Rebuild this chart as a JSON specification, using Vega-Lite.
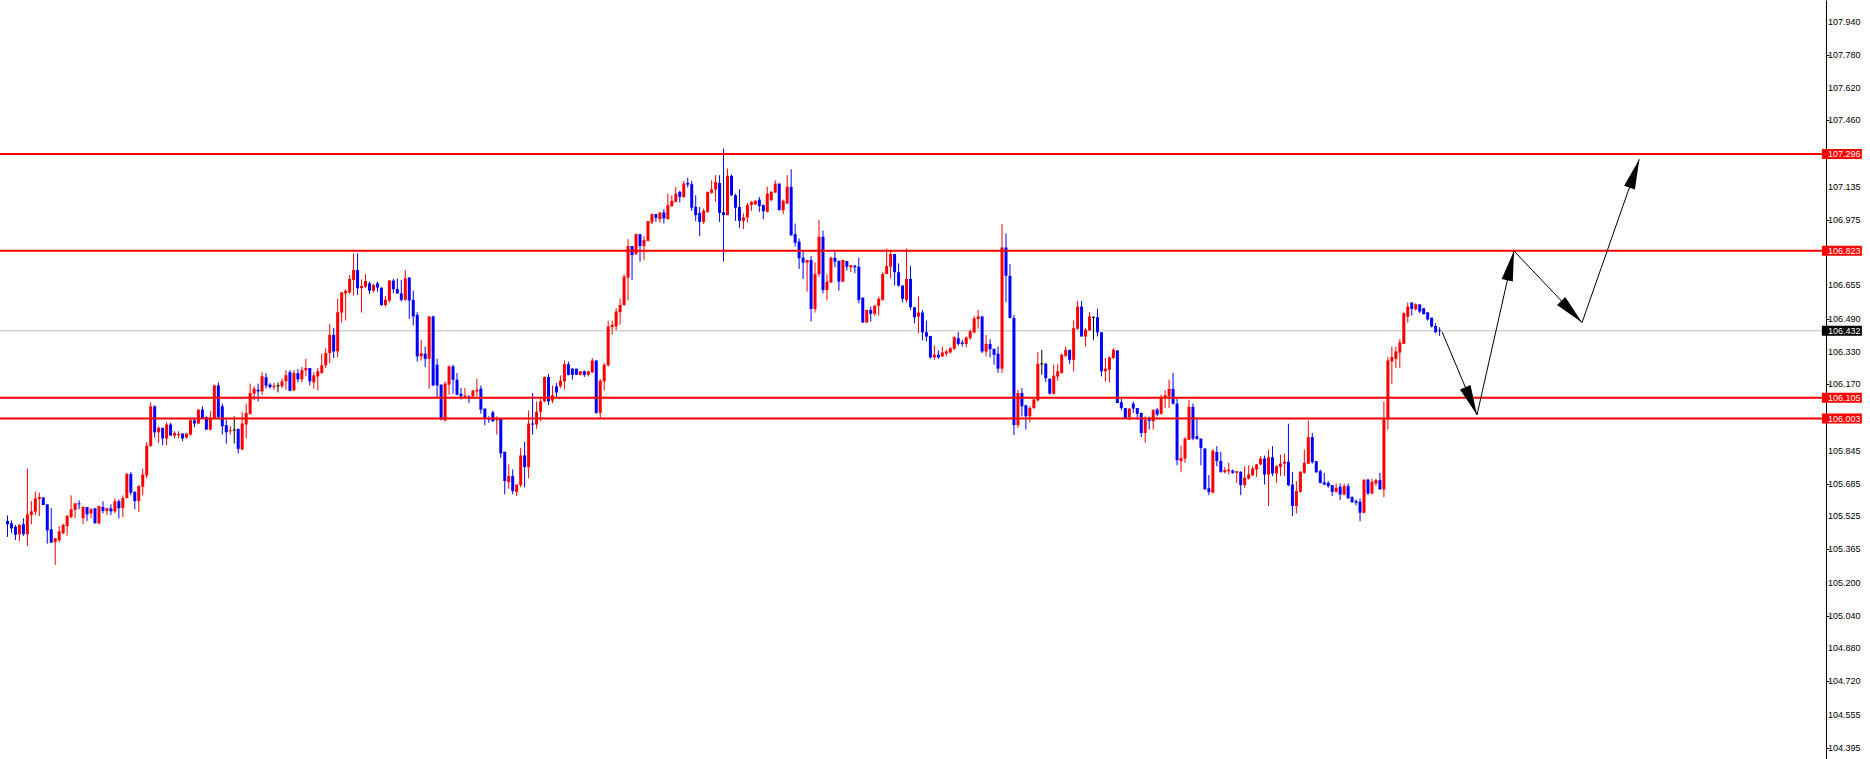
{
"$schema": "https://vega.github.io/schema/vega-lite/v6.json",
"width": 1826, "height": 759,
"autosize": {"type": "none"},
"padding": {"left": 0, "top": 0, "right": 44, "bottom": 0},
"background": "white",
"config": {"view": {"stroke": null}},
"datasets": {
"levels": [{"p":107.296,"k":"r"},{"p":106.823,"k":"r"},{"p":106.105,"k":"r"},{"p":106.003,"k":"r"},{"p":106.432,"k":"b"}],
"ticks": [{"v":107.940},{"v":107.780},{"v":107.620},{"v":107.460},{"v":107.135},{"v":106.975},{"v":106.655},{"v":106.490},{"v":106.330},{"v":106.170},{"v":105.845},{"v":105.685},{"v":105.525},{"v":105.365},{"v":105.200},{"v":105.040},{"v":104.880},{"v":104.720},{"v":104.555},{"v":104.395}],
"arrow": [{"s":0,"x":360.6,"p":106.428},{"s":1,"x":369.4,"p":106.021},{"s":2,"x":378.7,"p":106.822},{"s":3,"x":395.8,"p":106.472},{"s":4,"x":410.2,"p":107.270}],
"candles": [
{"i":0,"o":105.503,"h":105.530,"l":105.425,"c":105.487},
{"i":1,"o":105.491,"h":105.506,"l":105.443,"c":105.467},
{"i":2,"o":105.474,"h":105.483,"l":105.410,"c":105.435},
{"i":3,"o":105.438,"h":105.487,"l":105.405,"c":105.483},
{"i":4,"o":105.487,"h":105.516,"l":105.430,"c":105.438},
{"i":5,"o":105.438,"h":105.759,"l":105.381,"c":105.535},
{"i":6,"o":105.532,"h":105.600,"l":105.487,"c":105.550},
{"i":7,"o":105.548,"h":105.646,"l":105.530,"c":105.613},
{"i":8,"o":105.610,"h":105.641,"l":105.527,"c":105.620},
{"i":9,"o":105.618,"h":105.618,"l":105.581,"c":105.581},
{"i":10,"o":105.584,"h":105.584,"l":105.392,"c":105.457},
{"i":11,"o":105.462,"h":105.566,"l":105.397,"c":105.397},
{"i":12,"o":105.399,"h":105.418,"l":105.288,"c":105.418},
{"i":13,"o":105.409,"h":105.477,"l":105.397,"c":105.452},
{"i":14,"o":105.443,"h":105.490,"l":105.438,"c":105.483},
{"i":15,"o":105.478,"h":105.532,"l":105.430,"c":105.527},
{"i":16,"o":105.522,"h":105.628,"l":105.516,"c":105.560},
{"i":17,"o":105.557,"h":105.589,"l":105.516,"c":105.589},
{"i":18,"o":105.589,"h":105.604,"l":105.560,"c":105.584},
{"i":19,"o":105.516,"h":105.576,"l":105.487,"c":105.571},
{"i":20,"o":105.571,"h":105.571,"l":105.503,"c":105.535},
{"i":21,"o":105.540,"h":105.566,"l":105.516,"c":105.560},
{"i":22,"o":105.565,"h":105.565,"l":105.491,"c":105.491},
{"i":23,"o":105.491,"h":105.576,"l":105.487,"c":105.576},
{"i":24,"o":105.571,"h":105.599,"l":105.540,"c":105.552},
{"i":25,"o":105.552,"h":105.565,"l":105.532,"c":105.565},
{"i":26,"o":105.565,"h":105.584,"l":105.532,"c":105.550},
{"i":27,"o":105.550,"h":105.613,"l":105.542,"c":105.599},
{"i":28,"o":105.599,"h":105.608,"l":105.516,"c":105.565},
{"i":29,"o":105.566,"h":105.628,"l":105.522,"c":105.615},
{"i":30,"o":105.615,"h":105.738,"l":105.613,"c":105.732},
{"i":31,"o":105.732,"h":105.742,"l":105.628,"c":105.641},
{"i":32,"o":105.644,"h":105.649,"l":105.560,"c":105.600},
{"i":33,"o":105.600,"h":105.678,"l":105.547,"c":105.673},
{"i":34,"o":105.670,"h":105.758,"l":105.628,"c":105.730},
{"i":35,"o":105.725,"h":105.889,"l":105.711,"c":105.871},
{"i":36,"o":105.868,"h":106.083,"l":105.868,"c":106.063},
{"i":37,"o":106.063,"h":106.068,"l":105.909,"c":105.936},
{"i":38,"o":105.936,"h":105.966,"l":105.884,"c":105.958},
{"i":39,"o":105.958,"h":105.958,"l":105.873,"c":105.906},
{"i":40,"o":105.906,"h":105.985,"l":105.873,"c":105.974},
{"i":41,"o":105.974,"h":105.982,"l":105.920,"c":105.920},
{"i":42,"o":105.920,"h":105.941,"l":105.906,"c":105.933},
{"i":43,"o":105.922,"h":105.941,"l":105.906,"c":105.928},
{"i":44,"o":105.930,"h":105.930,"l":105.893,"c":105.906},
{"i":45,"o":105.909,"h":105.930,"l":105.906,"c":105.930},
{"i":46,"o":105.925,"h":106.006,"l":105.920,"c":105.995},
{"i":47,"o":105.995,"h":106.006,"l":105.961,"c":105.979},
{"i":48,"o":105.979,"h":106.047,"l":105.977,"c":106.047},
{"i":49,"o":106.047,"h":106.063,"l":106.006,"c":106.006},
{"i":50,"o":106.011,"h":106.014,"l":105.949,"c":105.949},
{"i":51,"o":105.949,"h":106.039,"l":105.945,"c":106.003},
{"i":52,"o":106.003,"h":106.169,"l":106.001,"c":106.165},
{"i":53,"o":106.165,"h":106.180,"l":106.001,"c":106.011},
{"i":54,"o":106.063,"h":106.076,"l":105.925,"c":105.966},
{"i":55,"o":105.971,"h":105.998,"l":105.881,"c":105.936},
{"i":56,"o":105.941,"h":105.966,"l":105.925,"c":105.946},
{"i":57,"o":105.947,"h":106.014,"l":105.881,"c":105.947},
{"i":58,"o":105.953,"h":105.953,"l":105.832,"c":105.855},
{"i":59,"o":105.852,"h":106.034,"l":105.849,"c":105.979},
{"i":60,"o":105.974,"h":106.076,"l":105.906,"c":106.031},
{"i":61,"o":106.026,"h":106.174,"l":106.022,"c":106.128},
{"i":62,"o":106.125,"h":106.161,"l":106.092,"c":106.149},
{"i":63,"o":106.144,"h":106.174,"l":106.087,"c":106.136},
{"i":64,"o":106.136,"h":106.230,"l":106.120,"c":106.210},
{"i":65,"o":106.205,"h":106.225,"l":106.150,"c":106.164},
{"i":66,"o":106.169,"h":106.177,"l":106.149,"c":106.157},
{"i":67,"o":106.157,"h":106.177,"l":106.144,"c":106.164},
{"i":68,"o":106.163,"h":106.180,"l":106.131,"c":106.163},
{"i":69,"o":106.161,"h":106.200,"l":106.152,"c":106.185},
{"i":70,"o":106.185,"h":106.240,"l":106.144,"c":106.215},
{"i":71,"o":106.230,"h":106.240,"l":106.136,"c":106.139},
{"i":72,"o":106.141,"h":106.240,"l":106.138,"c":106.225},
{"i":73,"o":106.225,"h":106.245,"l":106.180,"c":106.195},
{"i":74,"o":106.195,"h":106.255,"l":106.180,"c":106.240},
{"i":75,"o":106.239,"h":106.295,"l":106.209,"c":106.250},
{"i":76,"o":106.250,"h":106.250,"l":106.165,"c":106.185},
{"i":77,"o":106.180,"h":106.229,"l":106.149,"c":106.214},
{"i":78,"o":106.209,"h":106.250,"l":106.141,"c":106.234},
{"i":79,"o":106.226,"h":106.320,"l":106.222,"c":106.263},
{"i":80,"o":106.263,"h":106.347,"l":106.250,"c":106.323},
{"i":81,"o":106.323,"h":106.466,"l":106.274,"c":106.412},
{"i":82,"o":106.412,"h":106.445,"l":106.299,"c":106.331},
{"i":83,"o":106.331,"h":106.588,"l":106.303,"c":106.523},
{"i":84,"o":106.521,"h":106.620,"l":106.472,"c":106.620},
{"i":85,"o":106.615,"h":106.635,"l":106.482,"c":106.627},
{"i":86,"o":106.620,"h":106.705,"l":106.612,"c":106.685},
{"i":87,"o":106.680,"h":106.810,"l":106.604,"c":106.729},
{"i":88,"o":106.729,"h":106.810,"l":106.607,"c":106.640},
{"i":89,"o":106.640,"h":106.683,"l":106.521,"c":106.651},
{"i":90,"o":106.648,"h":106.709,"l":106.640,"c":106.675},
{"i":91,"o":106.664,"h":106.672,"l":106.612,"c":106.628},
{"i":92,"o":106.628,"h":106.661,"l":106.619,"c":106.656},
{"i":93,"o":106.664,"h":106.672,"l":106.623,"c":106.643},
{"i":94,"o":106.643,"h":106.643,"l":106.554,"c":106.558},
{"i":95,"o":106.558,"h":106.602,"l":106.550,"c":106.583},
{"i":96,"o":106.580,"h":106.680,"l":106.570,"c":106.677},
{"i":97,"o":106.677,"h":106.685,"l":106.615,"c":106.635},
{"i":98,"o":106.636,"h":106.688,"l":106.612,"c":106.615},
{"i":99,"o":106.615,"h":106.680,"l":106.575,"c":106.583},
{"i":100,"o":106.583,"h":106.729,"l":106.580,"c":106.688},
{"i":101,"o":106.692,"h":106.693,"l":106.490,"c":106.580},
{"i":102,"o":106.583,"h":106.628,"l":106.458,"c":106.502},
{"i":103,"o":106.510,"h":106.523,"l":106.282,"c":106.307},
{"i":104,"o":106.307,"h":106.388,"l":106.287,"c":106.323},
{"i":105,"o":106.320,"h":106.355,"l":106.255,"c":106.295},
{"i":106,"o":106.295,"h":106.502,"l":106.149,"c":106.502},
{"i":107,"o":106.502,"h":106.506,"l":106.161,"c":106.165},
{"i":108,"o":106.266,"h":106.295,"l":106.109,"c":106.165},
{"i":109,"o":106.169,"h":106.169,"l":105.995,"c":105.998},
{"i":110,"o":105.995,"h":106.185,"l":105.987,"c":106.174},
{"i":111,"o":106.169,"h":106.263,"l":106.120,"c":106.258},
{"i":112,"o":106.258,"h":106.266,"l":106.125,"c":106.193},
{"i":113,"o":106.193,"h":106.226,"l":106.117,"c":106.120},
{"i":114,"o":106.125,"h":106.152,"l":106.096,"c":106.112},
{"i":115,"o":106.109,"h":106.152,"l":106.104,"c":106.115},
{"i":116,"o":106.112,"h":106.117,"l":106.079,"c":106.109},
{"i":117,"o":106.112,"h":106.144,"l":106.109,"c":106.139},
{"i":118,"o":106.136,"h":106.198,"l":106.112,"c":106.144},
{"i":119,"o":106.149,"h":106.164,"l":106.027,"c":106.047},
{"i":120,"o":106.052,"h":106.052,"l":105.971,"c":106.006},
{"i":121,"o":106.006,"h":106.014,"l":105.982,"c":105.998},
{"i":122,"o":106.034,"h":106.042,"l":105.987,"c":105.990},
{"i":123,"o":105.995,"h":106.014,"l":105.925,"c":106.006},
{"i":124,"o":106.001,"h":106.001,"l":105.811,"c":105.833},
{"i":125,"o":105.841,"h":105.841,"l":105.633,"c":105.698},
{"i":126,"o":105.693,"h":105.779,"l":105.660,"c":105.722},
{"i":127,"o":105.722,"h":105.755,"l":105.633,"c":105.649},
{"i":128,"o":105.644,"h":105.681,"l":105.625,"c":105.681},
{"i":129,"o":105.678,"h":105.860,"l":105.668,"c":105.823},
{"i":130,"o":105.823,"h":105.889,"l":105.668,"c":105.766},
{"i":131,"o":105.766,"h":106.042,"l":105.711,"c":105.979},
{"i":132,"o":105.979,"h":106.128,"l":105.925,"c":105.974},
{"i":133,"o":105.974,"h":106.087,"l":105.954,"c":106.036},
{"i":134,"o":106.036,"h":106.099,"l":105.990,"c":106.087},
{"i":135,"o":106.087,"h":106.209,"l":106.084,"c":106.206},
{"i":136,"o":106.206,"h":106.222,"l":106.068,"c":106.087},
{"i":137,"o":106.091,"h":106.164,"l":106.079,"c":106.117},
{"i":138,"o":106.161,"h":106.177,"l":106.109,"c":106.131},
{"i":139,"o":106.161,"h":106.214,"l":106.152,"c":106.188},
{"i":140,"o":106.185,"h":106.286,"l":106.144,"c":106.269},
{"i":141,"o":106.269,"h":106.282,"l":106.214,"c":106.217},
{"i":142,"o":106.247,"h":106.250,"l":106.193,"c":106.217},
{"i":143,"o":106.247,"h":106.247,"l":106.217,"c":106.217},
{"i":144,"o":106.217,"h":106.234,"l":106.214,"c":106.234},
{"i":145,"o":106.234,"h":106.239,"l":106.206,"c":106.217},
{"i":146,"o":106.217,"h":106.237,"l":106.209,"c":106.234},
{"i":147,"o":106.229,"h":106.299,"l":106.226,"c":106.286},
{"i":148,"o":106.286,"h":106.290,"l":106.026,"c":106.031},
{"i":149,"o":106.031,"h":106.196,"l":106.006,"c":106.188},
{"i":150,"o":106.185,"h":106.274,"l":106.141,"c":106.266},
{"i":151,"o":106.263,"h":106.482,"l":106.258,"c":106.453},
{"i":152,"o":106.450,"h":106.482,"l":106.412,"c":106.461},
{"i":153,"o":106.453,"h":106.542,"l":106.434,"c":106.526},
{"i":154,"o":106.523,"h":106.588,"l":106.461,"c":106.558},
{"i":155,"o":106.558,"h":106.708,"l":106.555,"c":106.696},
{"i":156,"o":106.692,"h":106.880,"l":106.580,"c":106.846},
{"i":157,"o":106.846,"h":106.846,"l":106.680,"c":106.802},
{"i":158,"o":106.807,"h":106.908,"l":106.802,"c":106.904},
{"i":159,"o":106.904,"h":106.904,"l":106.770,"c":106.846},
{"i":160,"o":106.846,"h":106.895,"l":106.778,"c":106.875},
{"i":161,"o":106.872,"h":106.969,"l":106.867,"c":106.968},
{"i":162,"o":106.961,"h":107.005,"l":106.953,"c":107.002},
{"i":163,"o":107.002,"h":107.002,"l":106.964,"c":106.984},
{"i":164,"o":106.977,"h":107.010,"l":106.960,"c":107.010},
{"i":165,"o":107.010,"h":107.026,"l":106.956,"c":106.981},
{"i":166,"o":106.977,"h":107.102,"l":106.977,"c":107.046},
{"i":167,"o":107.041,"h":107.094,"l":107.037,"c":107.067},
{"i":168,"o":107.062,"h":107.135,"l":107.059,"c":107.102},
{"i":169,"o":107.111,"h":107.115,"l":107.059,"c":107.086},
{"i":170,"o":107.086,"h":107.164,"l":107.081,"c":107.151},
{"i":171,"o":107.154,"h":107.180,"l":107.132,"c":107.146},
{"i":172,"o":107.148,"h":107.164,"l":107.018,"c":107.033},
{"i":173,"o":107.037,"h":107.094,"l":106.968,"c":106.997},
{"i":174,"o":107.008,"h":107.037,"l":106.895,"c":106.964},
{"i":175,"o":106.964,"h":107.029,"l":106.953,"c":107.018},
{"i":176,"o":107.013,"h":107.111,"l":107.008,"c":107.111},
{"i":177,"o":107.106,"h":107.167,"l":107.102,"c":107.122},
{"i":178,"o":107.122,"h":107.192,"l":107.062,"c":107.159},
{"i":179,"o":107.154,"h":107.192,"l":106.964,"c":107.008},
{"i":180,"o":107.011,"h":107.322,"l":106.770,"c":106.997},
{"i":181,"o":106.997,"h":107.224,"l":106.997,"c":107.189},
{"i":182,"o":107.189,"h":107.195,"l":107.091,"c":107.094},
{"i":183,"o":107.094,"h":107.102,"l":106.969,"c":107.033},
{"i":184,"o":107.037,"h":107.124,"l":106.935,"c":106.969},
{"i":185,"o":106.969,"h":107.005,"l":106.929,"c":106.986},
{"i":186,"o":106.986,"h":107.057,"l":106.961,"c":107.046},
{"i":187,"o":107.046,"h":107.065,"l":107.018,"c":107.062},
{"i":188,"o":107.050,"h":107.070,"l":107.046,"c":107.067},
{"i":189,"o":107.073,"h":107.086,"l":107.013,"c":107.041},
{"i":190,"o":107.046,"h":107.049,"l":106.977,"c":107.016},
{"i":191,"o":107.013,"h":107.135,"l":107.010,"c":107.102},
{"i":192,"o":107.070,"h":107.114,"l":107.065,"c":107.111},
{"i":193,"o":107.107,"h":107.167,"l":107.106,"c":107.151},
{"i":194,"o":107.151,"h":107.151,"l":107.021,"c":107.021},
{"i":195,"o":107.021,"h":107.073,"l":107.002,"c":107.067},
{"i":196,"o":107.054,"h":107.192,"l":107.050,"c":107.135},
{"i":197,"o":107.135,"h":107.221,"l":106.895,"c":106.899},
{"i":198,"o":106.904,"h":106.956,"l":106.843,"c":106.862},
{"i":199,"o":106.867,"h":106.883,"l":106.734,"c":106.786},
{"i":200,"o":106.789,"h":106.818,"l":106.685,"c":106.765},
{"i":201,"o":106.765,"h":106.778,"l":106.623,"c":106.778},
{"i":202,"o":106.778,"h":106.797,"l":106.477,"c":106.539},
{"i":203,"o":106.539,"h":106.766,"l":106.521,"c":106.709},
{"i":204,"o":106.709,"h":106.973,"l":106.696,"c":106.891},
{"i":205,"o":106.891,"h":106.921,"l":106.615,"c":106.631},
{"i":206,"o":106.631,"h":106.708,"l":106.580,"c":106.672},
{"i":207,"o":106.669,"h":106.794,"l":106.664,"c":106.789},
{"i":208,"o":106.789,"h":106.818,"l":106.742,"c":106.770},
{"i":209,"o":106.774,"h":106.774,"l":106.628,"c":106.672},
{"i":210,"o":106.672,"h":106.778,"l":106.669,"c":106.778},
{"i":211,"o":106.773,"h":106.773,"l":106.726,"c":106.745},
{"i":212,"o":106.742,"h":106.753,"l":106.718,"c":106.753},
{"i":213,"o":106.750,"h":106.753,"l":106.713,"c":106.742},
{"i":214,"o":106.745,"h":106.789,"l":106.566,"c":106.583},
{"i":215,"o":106.594,"h":106.594,"l":106.472,"c":106.472},
{"i":216,"o":106.472,"h":106.534,"l":106.472,"c":106.534},
{"i":217,"o":106.534,"h":106.550,"l":106.477,"c":106.515},
{"i":218,"o":106.515,"h":106.555,"l":106.506,"c":106.555},
{"i":219,"o":106.554,"h":106.599,"l":106.506,"c":106.588},
{"i":220,"o":106.583,"h":106.718,"l":106.580,"c":106.709},
{"i":221,"o":106.709,"h":106.834,"l":106.709,"c":106.748},
{"i":222,"o":106.745,"h":106.823,"l":106.688,"c":106.807},
{"i":223,"o":106.807,"h":106.807,"l":106.653,"c":106.718},
{"i":224,"o":106.718,"h":106.761,"l":106.648,"c":106.653},
{"i":225,"o":106.653,"h":106.653,"l":106.571,"c":106.588},
{"i":226,"o":106.583,"h":106.834,"l":106.571,"c":106.685},
{"i":227,"o":106.685,"h":106.748,"l":106.534,"c":106.547},
{"i":228,"o":106.547,"h":106.547,"l":106.469,"c":106.498},
{"i":229,"o":106.502,"h":106.599,"l":106.420,"c":106.521},
{"i":230,"o":106.521,"h":106.534,"l":106.385,"c":106.424},
{"i":231,"o":106.425,"h":106.482,"l":106.380,"c":106.404},
{"i":232,"o":106.407,"h":106.407,"l":106.295,"c":106.302},
{"i":233,"o":106.302,"h":106.360,"l":106.290,"c":106.315},
{"i":234,"o":106.315,"h":106.336,"l":106.295,"c":106.302},
{"i":235,"o":106.307,"h":106.355,"l":106.303,"c":106.326},
{"i":236,"o":106.320,"h":106.339,"l":106.307,"c":106.331},
{"i":237,"o":106.326,"h":106.351,"l":106.320,"c":106.347},
{"i":238,"o":106.344,"h":106.404,"l":106.339,"c":106.401},
{"i":239,"o":106.396,"h":106.427,"l":106.360,"c":106.368},
{"i":240,"o":106.375,"h":106.388,"l":106.355,"c":106.368},
{"i":241,"o":106.367,"h":106.404,"l":106.351,"c":106.399},
{"i":242,"o":106.396,"h":106.437,"l":106.388,"c":106.429},
{"i":243,"o":106.424,"h":106.505,"l":106.420,"c":106.492},
{"i":244,"o":106.489,"h":106.534,"l":106.442,"c":106.502},
{"i":245,"o":106.502,"h":106.505,"l":106.323,"c":106.331},
{"i":246,"o":106.331,"h":106.412,"l":106.307,"c":106.368},
{"i":247,"o":106.368,"h":106.391,"l":106.302,"c":106.342},
{"i":248,"o":106.344,"h":106.344,"l":106.266,"c":106.315},
{"i":249,"o":106.320,"h":106.355,"l":106.226,"c":106.247},
{"i":250,"o":106.247,"h":106.953,"l":106.226,"c":106.839},
{"i":251,"o":106.839,"h":106.908,"l":106.571,"c":106.701},
{"i":252,"o":106.700,"h":106.758,"l":106.494,"c":106.494},
{"i":253,"o":106.494,"h":106.510,"l":105.922,"c":105.971},
{"i":254,"o":105.971,"h":106.144,"l":105.958,"c":106.128},
{"i":255,"o":106.128,"h":106.152,"l":106.014,"c":106.063},
{"i":256,"o":106.068,"h":106.071,"l":105.949,"c":106.014},
{"i":257,"o":106.014,"h":106.063,"l":105.985,"c":106.055},
{"i":258,"o":106.055,"h":106.101,"l":106.050,"c":106.096},
{"i":259,"o":106.092,"h":106.328,"l":106.087,"c":106.271},
{"i":260,"o":106.270,"h":106.339,"l":106.217,"c":106.270},
{"i":261,"o":106.271,"h":106.274,"l":106.182,"c":106.201},
{"i":262,"o":106.198,"h":106.198,"l":106.120,"c":106.125},
{"i":263,"o":106.125,"h":106.266,"l":106.120,"c":106.213},
{"i":264,"o":106.209,"h":106.269,"l":106.188,"c":106.234},
{"i":265,"o":106.226,"h":106.320,"l":106.222,"c":106.315},
{"i":266,"o":106.310,"h":106.355,"l":106.303,"c":106.339},
{"i":267,"o":106.339,"h":106.339,"l":106.271,"c":106.290},
{"i":268,"o":106.290,"h":106.482,"l":106.234,"c":106.445},
{"i":269,"o":106.442,"h":106.578,"l":106.437,"c":106.550},
{"i":270,"o":106.550,"h":106.578,"l":106.404,"c":106.404},
{"i":271,"o":106.404,"h":106.445,"l":106.355,"c":106.437},
{"i":272,"o":106.434,"h":106.523,"l":106.432,"c":106.502},
{"i":273,"o":106.498,"h":106.502,"l":106.388,"c":106.498},
{"i":274,"o":106.498,"h":106.539,"l":106.404,"c":106.424},
{"i":275,"o":106.425,"h":106.425,"l":106.209,"c":106.234},
{"i":276,"o":106.234,"h":106.299,"l":106.185,"c":106.247},
{"i":277,"o":106.242,"h":106.307,"l":106.180,"c":106.302},
{"i":278,"o":106.299,"h":106.347,"l":106.295,"c":106.339},
{"i":279,"o":106.336,"h":106.336,"l":106.079,"c":106.079},
{"i":280,"o":106.083,"h":106.099,"l":106.044,"c":106.055},
{"i":281,"o":106.055,"h":106.055,"l":106.003,"c":106.006},
{"i":282,"o":106.010,"h":106.052,"l":105.995,"c":106.052},
{"i":283,"o":106.076,"h":106.087,"l":106.031,"c":106.052},
{"i":284,"o":106.055,"h":106.055,"l":105.998,"c":106.026},
{"i":285,"o":106.031,"h":106.031,"l":105.914,"c":105.933},
{"i":286,"o":105.933,"h":106.014,"l":105.885,"c":105.995},
{"i":287,"o":106.000,"h":106.014,"l":105.949,"c":105.992},
{"i":288,"o":105.990,"h":106.050,"l":105.949,"c":106.044},
{"i":289,"o":106.047,"h":106.055,"l":106.014,"c":106.023},
{"i":290,"o":106.026,"h":106.120,"l":106.023,"c":106.109},
{"i":291,"o":106.104,"h":106.141,"l":106.055,"c":106.117},
{"i":292,"o":106.112,"h":106.193,"l":106.055,"c":106.148},
{"i":293,"o":106.148,"h":106.226,"l":106.071,"c":106.076},
{"i":294,"o":106.076,"h":106.100,"l":105.775,"c":105.800},
{"i":295,"o":105.795,"h":105.871,"l":105.741,"c":105.811},
{"i":296,"o":105.808,"h":105.913,"l":105.787,"c":105.905},
{"i":297,"o":105.900,"h":106.095,"l":105.900,"c":106.060},
{"i":298,"o":106.060,"h":106.076,"l":105.897,"c":105.905},
{"i":299,"o":105.917,"h":106.001,"l":105.900,"c":105.904},
{"i":300,"o":105.905,"h":105.905,"l":105.775,"c":105.860},
{"i":301,"o":105.857,"h":105.857,"l":105.657,"c":105.657},
{"i":302,"o":105.662,"h":105.727,"l":105.629,"c":105.644},
{"i":303,"o":105.641,"h":105.852,"l":105.637,"c":105.847},
{"i":304,"o":105.840,"h":105.868,"l":105.770,"c":105.795},
{"i":305,"o":105.795,"h":105.840,"l":105.738,"c":105.743},
{"i":306,"o":105.741,"h":105.766,"l":105.735,"c":105.751},
{"i":307,"o":105.746,"h":105.787,"l":105.730,"c":105.754},
{"i":308,"o":105.749,"h":105.754,"l":105.733,"c":105.738},
{"i":309,"o":105.738,"h":105.746,"l":105.689,"c":105.746},
{"i":310,"o":105.743,"h":105.746,"l":105.629,"c":105.678},
{"i":311,"o":105.678,"h":105.770,"l":105.665,"c":105.714},
{"i":312,"o":105.710,"h":105.775,"l":105.705,"c":105.730},
{"i":313,"o":105.727,"h":105.770,"l":105.722,"c":105.759},
{"i":314,"o":105.754,"h":105.782,"l":105.718,"c":105.779},
{"i":315,"o":105.779,"h":105.819,"l":105.775,"c":105.808},
{"i":316,"o":105.808,"h":105.822,"l":105.681,"c":105.730},
{"i":317,"o":105.730,"h":105.852,"l":105.576,"c":105.814},
{"i":318,"o":105.814,"h":105.868,"l":105.722,"c":105.735},
{"i":319,"o":105.735,"h":105.775,"l":105.689,"c":105.770},
{"i":320,"o":105.767,"h":105.827,"l":105.722,"c":105.783},
{"i":321,"o":105.783,"h":105.832,"l":105.722,"c":105.792},
{"i":322,"o":105.792,"h":105.978,"l":105.673,"c":105.678},
{"i":323,"o":105.681,"h":105.743,"l":105.527,"c":105.576},
{"i":324,"o":105.576,"h":105.697,"l":105.540,"c":105.649},
{"i":325,"o":105.645,"h":105.746,"l":105.641,"c":105.743},
{"i":326,"o":105.738,"h":105.852,"l":105.735,"c":105.787},
{"i":327,"o":105.783,"h":105.993,"l":105.783,"c":105.912},
{"i":328,"o":105.912,"h":105.933,"l":105.783,"c":105.790},
{"i":329,"o":105.795,"h":105.795,"l":105.738,"c":105.741},
{"i":330,"o":105.746,"h":105.754,"l":105.686,"c":105.689},
{"i":331,"o":105.692,"h":105.738,"l":105.678,"c":105.681},
{"i":332,"o":105.689,"h":105.697,"l":105.665,"c":105.673},
{"i":333,"o":105.678,"h":105.678,"l":105.624,"c":105.645},
{"i":334,"o":105.645,"h":105.686,"l":105.641,"c":105.665},
{"i":335,"o":105.670,"h":105.686,"l":105.605,"c":105.632},
{"i":336,"o":105.632,"h":105.686,"l":105.629,"c":105.673},
{"i":337,"o":105.673,"h":105.686,"l":105.613,"c":105.613},
{"i":338,"o":105.619,"h":105.624,"l":105.592,"c":105.595},
{"i":339,"o":105.600,"h":105.608,"l":105.579,"c":105.592},
{"i":340,"o":105.597,"h":105.613,"l":105.502,"c":105.543},
{"i":341,"o":105.543,"h":105.705,"l":105.540,"c":105.705},
{"i":342,"o":105.705,"h":105.709,"l":105.629,"c":105.637},
{"i":343,"o":105.637,"h":105.709,"l":105.632,"c":105.694},
{"i":344,"o":105.686,"h":105.709,"l":105.673,"c":105.702},
{"i":345,"o":105.702,"h":105.738,"l":105.657,"c":105.657},
{"i":346,"o":105.657,"h":106.087,"l":105.619,"c":105.998},
{"i":347,"o":105.998,"h":106.303,"l":105.949,"c":106.287},
{"i":348,"o":106.282,"h":106.355,"l":106.173,"c":106.303},
{"i":349,"o":106.295,"h":106.355,"l":106.250,"c":106.331},
{"i":350,"o":106.326,"h":106.391,"l":106.250,"c":106.375},
{"i":351,"o":106.368,"h":106.522,"l":106.367,"c":106.518},
{"i":352,"o":106.501,"h":106.570,"l":106.472,"c":106.550},
{"i":353,"o":106.570,"h":106.570,"l":106.506,"c":106.539},
{"i":354,"o":106.537,"h":106.566,"l":106.531,"c":106.561},
{"i":355,"o":106.561,"h":106.561,"l":106.518,"c":106.526},
{"i":356,"o":106.542,"h":106.542,"l":106.513,"c":106.513},
{"i":357,"o":106.522,"h":106.522,"l":106.482,"c":106.488},
{"i":358,"o":106.496,"h":106.496,"l":106.448,"c":106.453},
{"i":359,"o":106.456,"h":106.469,"l":106.420,"c":106.425},
{"i":360,"o":106.436,"h":106.449,"l":106.407,"c":106.432}
]
},
"layer": [
{
"data": {"name": "levels"},
"transform": [{"filter": "datum.k == 'b'"}],
"mark": {"type": "rule", "color": "#c0c0c0", "strokeWidth": 1},
"encoding": {
"y": {"field": "p", "type": "quantitative", "scale": {"domain": [104.340, 108.048], "nice": false, "zero": false},
"axis": {"orient": "right", "title": null, "values": [107.940,107.780,107.620,107.460,107.135,106.975,106.655,106.490,106.330,106.170,105.845,105.685,105.525,105.365,105.200,105.040,104.880,104.720,104.555,104.395],
"labels": false, "grid": false, "domainColor": "black", "domainWidth": 1, "tickColor": "black", "tickSize": 3}}
}
},
{
"data": {"name": "ticks"},
"mark": {"type": "text", "align": "left", "baseline": "middle", "font": "Liberation Sans", "fontSize": 9, "color": "black"},
"encoding": {
"x": {"datum": 457.625, "type": "quantitative", "scale": {"domain": [-0.625, 455.875], "nice": false, "zero": false}, "axis": null},
"y": {"field": "v", "type": "quantitative", "scale": {"domain": [104.340, 108.048], "nice": false, "zero": false}},
"text": {"field": "v", "type": "quantitative", "format": ".3f"}
}
},
{
"data": {"name": "candles"},
"mark": {"type": "rule", "strokeWidth": 1},
"encoding": {
"x": {"field": "i", "type": "quantitative", "scale": {"domain": [-0.625, 455.875], "nice": false, "zero": false}, "axis": null},
"y": {"field": "l", "type": "quantitative", "scale": {"domain": [104.340, 108.048], "nice": false, "zero": false}},
"y2": {"field": "h"},
"color": {"condition": [{"test": "datum.c == datum.o", "value": "black"}, {"test": "datum.c > datum.o", "value": "#ff0000"}], "value": "#0000ff"}
}
},
{
"data": {"name": "candles"},
"mark": {"type": "bar", "width": 3},
"encoding": {
"x": {"field": "i", "type": "quantitative", "scale": {"domain": [-0.625, 455.875], "nice": false, "zero": false}, "axis": null},
"y": {"field": "o", "type": "quantitative", "scale": {"domain": [104.340, 108.048], "nice": false, "zero": false}},
"y2": {"field": "c"},
"color": {"condition": [{"test": "datum.c == datum.o", "value": "black"}, {"test": "datum.c > datum.o", "value": "#ff0000"}], "value": "#0000ff"}
}
},
{
"data": {"name": "candles"},
"transform": [{"filter": "datum.c == datum.o"}],
"mark": {"type": "point", "shape": "M-1,0L1,0", "filled": false, "stroke": "black", "strokeWidth": 1, "size": 9, "opacity": 1},
"encoding": {
"x": {"field": "i", "type": "quantitative", "scale": {"domain": [-0.625, 455.875], "nice": false, "zero": false}, "axis": null},
"y": {"field": "c", "type": "quantitative", "scale": {"domain": [104.340, 108.048], "nice": false, "zero": false}}
}
},
{
"data": {"name": "levels"},
"transform": [{"filter": "datum.k == 'r'"}],
"mark": {"type": "rule", "color": "#ff0000", "strokeWidth": 2},
"encoding": {
"y": {"field": "p", "type": "quantitative", "scale": {"domain": [104.340, 108.048], "nice": false, "zero": false}}
}
},
{
"data": {"name": "arrow"},
"mark": {"type": "line", "color": "black", "strokeWidth": 1},
"encoding": {
"x": {"field": "x", "type": "quantitative", "scale": {"domain": [-0.625, 455.875], "nice": false, "zero": false}, "axis": null},
"y": {"field": "p", "type": "quantitative", "scale": {"domain": [104.340, 108.048], "nice": false, "zero": false}},
"order": {"field": "s"}
}
},
{
"data": {"name": "arrow"},
"transform": [{"filter": "datum.s == 1"}],
"mark": {"type": "point", "shape": "M0,0L0.38,2L-0.38,2Z", "filled": true, "color": "black", "size": 900, "opacity": 1, "angle": 157},
"encoding": {
"x": {"field": "x", "type": "quantitative", "scale": {"domain": [-0.625, 455.875], "nice": false, "zero": false}, "axis": null},
"y": {"field": "p", "type": "quantitative", "scale": {"domain": [104.340, 108.048], "nice": false, "zero": false}}
}
},
{
"data": {"name": "arrow"},
"transform": [{"filter": "datum.s == 2"}],
"mark": {"type": "point", "shape": "M0,0L0.38,2L-0.38,2Z", "filled": true, "color": "black", "size": 900, "opacity": 1, "angle": 13},
"encoding": {
"x": {"field": "x", "type": "quantitative", "scale": {"domain": [-0.625, 455.875], "nice": false, "zero": false}, "axis": null},
"y": {"field": "p", "type": "quantitative", "scale": {"domain": [104.340, 108.048], "nice": false, "zero": false}}
}
},
{
"data": {"name": "arrow"},
"transform": [{"filter": "datum.s == 3"}],
"mark": {"type": "point", "shape": "M0,0L0.38,2L-0.38,2Z", "filled": true, "color": "black", "size": 900, "opacity": 1, "angle": 136},
"encoding": {
"x": {"field": "x", "type": "quantitative", "scale": {"domain": [-0.625, 455.875], "nice": false, "zero": false}, "axis": null},
"y": {"field": "p", "type": "quantitative", "scale": {"domain": [104.340, 108.048], "nice": false, "zero": false}}
}
},
{
"data": {"name": "arrow"},
"transform": [{"filter": "datum.s == 4"}],
"mark": {"type": "point", "shape": "M0,0L0.38,2L-0.38,2Z", "filled": true, "color": "black", "size": 900, "opacity": 1, "angle": 19},
"encoding": {
"x": {"field": "x", "type": "quantitative", "scale": {"domain": [-0.625, 455.875], "nice": false, "zero": false}, "axis": null},
"y": {"field": "p", "type": "quantitative", "scale": {"domain": [104.340, 108.048], "nice": false, "zero": false}}
}
},
{
"data": {"name": "levels"},
"mark": {"type": "point", "shape": "M-1,-0.25L1,-0.25L1,0.25L-1,0.25Z", "filled": true, "size": 1600, "opacity": 1, "strokeWidth": 0},
"encoding": {
"x": {"datum": 461.125, "type": "quantitative", "scale": {"domain": [-0.625, 455.875], "nice": false, "zero": false}, "axis": null},
"y": {"field": "p", "type": "quantitative", "scale": {"domain": [104.340, 108.048], "nice": false, "zero": false}},
"color": {"condition": {"test": "datum.k == 'b'", "value": "black"}, "value": "#ff0000"}
}
},
{
"data": {"name": "levels"},
"mark": {"type": "text", "align": "left", "baseline": "middle", "font": "Liberation Sans", "fontSize": 9, "color": "white", "dx": -14, "dy": 0.5},
"encoding": {
"x": {"datum": 461.125, "type": "quantitative", "scale": {"domain": [-0.625, 455.875], "nice": false, "zero": false}, "axis": null},
"y": {"field": "p", "type": "quantitative", "scale": {"domain": [104.340, 108.048], "nice": false, "zero": false}},
"text": {"field": "p", "type": "quantitative", "format": ".3f"}
}
}
]
}
